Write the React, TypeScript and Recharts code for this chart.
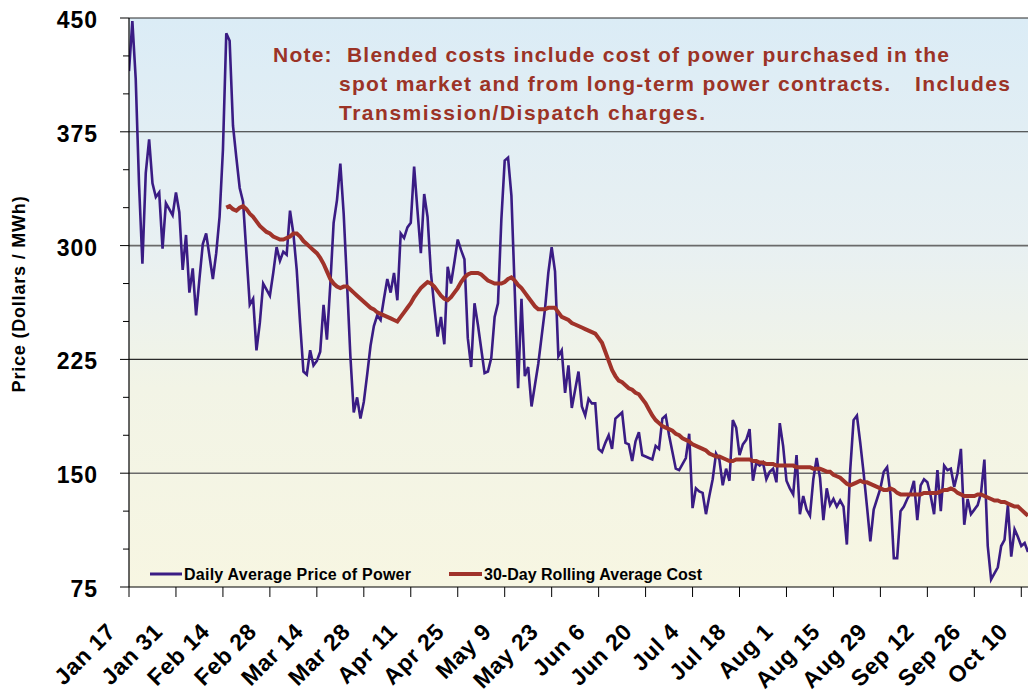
import React from "react";
import {
  LineChart,
  Line,
  XAxis,
  YAxis,
  ReferenceLine,
  ReferenceArea,
} from "recharts";

// Daily Average Price of Power ($/MWh), one value per day starting Jan 17
const dailyPrice: number[] = [
  415, 448, 410, 340, 288, 348, 370, 341, 332, 335,
  298, 328, 324, 320, 335, 322, 284, 307, 269, 285,
  254, 278, 301, 308, 293, 278, 295, 319, 363, 440,
  435, 379, 358, 338, 329, 295, 261, 265, 231, 249,
  275, 271, 267, 282, 299, 290, 296, 294, 323, 308,
  284, 249, 217, 215, 231, 221, 224, 230, 261, 238,
  274, 315, 330, 354, 321, 275, 227, 190, 200, 186,
  197, 215, 234, 247, 254, 251, 265, 278, 269, 282,
  264, 308, 305, 312, 315, 352, 323, 295, 334, 319,
  282, 260, 240, 253, 235, 286, 275, 289, 304, 297,
  291, 239, 220, 262, 248, 232, 216, 217, 226, 253,
  262, 317, 356, 358, 333, 270, 206, 265, 214, 220,
  194, 208, 222, 240, 258, 282, 299, 283, 227, 231,
  203, 221, 193, 205, 217, 194, 188, 199, 196, 196,
  166, 164, 170, 175, 166, 186, 188, 190, 170, 169,
  158, 171, 177, 162, 161, 160, 159, 168, 166, 186,
  188, 175, 164, 153, 152, 156, 160, 176, 127, 140,
  138, 137, 123, 135, 146, 163, 159, 142, 153, 145,
  185, 180, 162, 169, 172, 179, 145, 157, 155, 157,
  146, 151, 153, 144, 183, 168, 145, 140, 136, 162,
  123, 135, 126, 122, 146, 160, 147, 119, 140, 129,
  133, 128, 132, 128, 103, 152, 185, 188, 170, 150,
  128, 105, 126, 133, 140, 151, 154, 136, 94, 94,
  125, 128, 133, 137, 145, 119, 142, 146, 144, 135,
  123, 152, 125, 155, 152, 153, 141, 150, 166, 116,
  133, 123, 126, 129, 137, 159, 102, 80, 84, 88,
  102, 106, 129, 95, 113, 108, 102, 104, 98,
];

// 30-Day Rolling Average Cost, starting on day 29 (Feb 15)
const rollingStartDay = 29;
const rollingAvg: number[] = [
  325, 326, 324, 323, 325, 326, 324, 321, 319, 316,
  313, 311, 309, 308, 306, 305, 304, 304, 305, 306,
  308, 308, 306, 303, 301, 299, 297, 295, 292, 288,
  283, 278, 275, 273, 272, 273, 273, 271, 269, 267,
  265, 263, 261, 259, 258, 256, 255, 254, 253, 252,
  251, 250, 253, 256, 259, 262, 266, 269, 272, 274,
  276, 275, 273, 270, 267, 265, 264, 266, 269, 272,
  276, 279, 281, 282, 282, 282, 281, 279, 277, 276,
  275, 275, 275, 276, 278, 279, 277, 274, 272, 269,
  266, 263, 260, 258, 258, 258, 259, 259, 259, 256,
  253, 252, 251, 249, 248, 247, 246, 245, 244, 243,
  242, 239, 236, 230, 224, 218, 214, 211, 210, 208,
  206, 205, 203, 202, 199, 196, 192, 188, 185, 183,
  181, 180, 179, 178, 176, 175, 173, 172, 171, 169,
  168, 167, 166, 165, 163, 162, 161, 161, 160, 159,
  158, 158, 159, 159, 159, 159, 159, 158, 158, 157,
  157, 156, 156, 156, 155, 155, 155, 155, 155, 155,
  154, 154, 154, 154, 154, 153, 153, 153, 152, 151,
  151, 149, 148, 147, 145, 143, 142, 143, 144, 145,
  144, 144, 143, 142, 141, 140, 139, 139, 140, 139,
  137, 136, 136, 136, 136, 136, 136, 136, 137, 137,
  137, 137, 137, 138, 139, 139, 140, 139, 137, 136,
  135, 135, 135, 135, 136, 136, 135, 134, 133, 132,
  132, 131, 131, 130, 129, 128, 128, 126, 124, 122,
];

const xTickLabels: string[] = [
  "Jan 17", "Jan 31", "Feb 14", "Feb 28", "Mar 14", "Mar 28", "Apr 11",
  "Apr 25", "May 9", "May 23", "Jun 6", "Jun 20", "Jul 4", "Jul 18",
  "Aug 1", "Aug 15", "Aug 29", "Sep 12", "Sep 26", "Oct 10",
];
const xTickStepDays = 14;
const yTicks: number[] = [75, 100, 125, 150, 175, 200, 225, 250, 275, 300, 325, 350, 375, 400, 425, 450];
const yMajorTicks: number[] = [75, 150, 225, 300, 375, 450];
const gridValues: number[] = [150, 225, 300, 375, 450];

const seriesNames = {
  price: "Daily Average Price of Power",
  avg: "30-Day Rolling Average Cost",
};
const noteLines: string[] = [
  "Note:  Blended costs include cost of power purchased in the",
  "spot market and from long-term power contracts.",
  "Includes",
  "Transmission/Dispatch charges.",
];
const yAxisTitle = "Price (Dollars / MWh)";

const data = dailyPrice.map((v, i) => ({
  day: i,
  price: v,
  avg: i >= rollingStartDay ? rollingAvg[i - rollingStartDay] : null,
}));
const xTicks = xTickLabels.map((_, i) => i * xTickStepDays);

const W = 1028;
const H = 692;
const PLOT_LEFT = 129;
const PLOT_TOP = 18;
const PLOT_BOTTOM = 587;
const FONT = "'Liberation Sans', Arial, Helvetica, sans-serif";
const PURPLE = "#3a1c84";
const RED = "#a0332a";
const NOTE = "#9b3326";

const YTick = (props: any) => {
  const { y, payload } = props;
  const v = payload.value as number;
  const major = yMajorTicks.includes(v);
  return (
    <g>
      <line x1={major ? 120 : 123} x2={PLOT_LEFT} y1={y} y2={y} stroke="#000" strokeWidth={1} />
      {major && (
        <text
          x={98}
          y={y + 10}
          textAnchor="end"
          fontFamily={FONT}
          fontWeight="bold"
          fontSize={23}
          letterSpacing={1}
          fill="#000"
        >
          {v}
        </text>
      )}
    </g>
  );
};

const XTick = (props: any) => {
  const { x, payload, index } = props;
  const label = xTickLabels[index] ?? xTickLabels[Math.round(payload.value / xTickStepDays)];
  const ax = x - 12;
  const ay = PLOT_BOTTOM + 46;
  return (
    <g>
      <line x1={x} x2={x} y1={PLOT_BOTTOM} y2={PLOT_BOTTOM + 10} stroke="#000" strokeWidth={1} />
      <text
        x={ax}
        y={ay}
        transform={`rotate(-45, ${ax}, ${ay})`}
        textAnchor="end"
        fontFamily={FONT}
        fontWeight="bold"
        fontSize={23}
        letterSpacing={0.6}
        fill="#000"
      >
        {label}
      </text>
    </g>
  );
};

export default function App() {
  return (
    <div
      style={{
        position: "fixed",
        left: 0,
        top: 0,
        width: W,
        height: H,
        overflow: "hidden",
        background: "#fff",
      }}
    >
      <LineChart
        width={W}
        height={H}
        data={data}
        margin={{ top: PLOT_TOP, right: 0, bottom: 0, left: 0 }}
      >
        <defs>
          <linearGradient id="bgGrad" x1="0" y1="0" x2="0" y2="1">
            <stop offset="0%" stopColor="#dbecf6" />
            <stop offset="40%" stopColor="#e8f0f2" />
            <stop offset="65%" stopColor="#f2f4e6" />
            <stop offset="100%" stopColor="#f7f6e2" />
          </linearGradient>
        </defs>
        <XAxis
          dataKey="day"
          type="number"
          domain={[0, 268]}
          ticks={xTicks}
          interval={0}
          height={H - PLOT_BOTTOM}
          axisLine={{ stroke: "#000", strokeWidth: 1.2 }}
          tickLine={false}
          tick={<XTick />}
          allowDataOverflow
        />
        <YAxis
          type="number"
          domain={[75, 450]}
          ticks={yTicks}
          interval={0}
          width={PLOT_LEFT}
          axisLine={{ stroke: "#000", strokeWidth: 1.2 }}
          tickLine={false}
          tick={<YTick />}
          allowDataOverflow
        />
        <ReferenceArea
          x1={0}
          x2={268}
          y1={75}
          y2={450}
          fill="url(#bgGrad)"
          fillOpacity={1}
          stroke="none"
        />
        {gridValues.map((g) => (
          <ReferenceLine
            key={g}
            y={g}
            stroke={g === 300 || g === 150 ? "#6a6a6a" : "#2a2a2a"}
            strokeWidth={g === 300 || g === 150 ? 1.6 : 1.1}
          />
        ))}
        <Line
          type="linear"
          dataKey="price"
          stroke={PURPLE}
          strokeWidth={2.6}
          dot={false}
          isAnimationActive={false}
          name={seriesNames.price}
        />
        <Line
          type="linear"
          dataKey="avg"
          stroke={RED}
          strokeWidth={4}
          dot={false}
          isAnimationActive={false}
          connectNulls={false}
          name={seriesNames.avg}
        />
        <text
          x={25}
          y={294}
          transform="rotate(-90, 25, 294)"
          textAnchor="middle"
          fontFamily={FONT}
          fontWeight="bold"
          fontSize={18}
          letterSpacing={0.8}
          fill="#000"
        >
          {yAxisTitle}
        </text>
      </LineChart>
      <svg
        width={W}
        height={H}
        style={{ position: "absolute", left: 0, top: 0, pointerEvents: "none" }}
      >
        <g fontFamily={FONT} fontWeight="bold">
          <text x={273} y={62} fontSize={21} fill={NOTE} textLength={676} lengthAdjust="spacing" style={{ whiteSpace: "pre" }}>
            {noteLines[0]}
          </text>
          <text x={339} y={91} fontSize={21} fill={NOTE} textLength={551} lengthAdjust="spacing">
            {noteLines[1]}
          </text>
          <text x={915} y={91} fontSize={21} fill={NOTE} textLength={95} lengthAdjust="spacing">
            {noteLines[2]}
          </text>
          <text x={339} y={120} fontSize={21} fill={NOTE} textLength={366} lengthAdjust="spacing">
            {noteLines[3]}
          </text>
        </g>
        <g fontFamily={FONT} fontWeight="bold">
          <line x1={150} x2={182} y1={574} y2={574} stroke={PURPLE} strokeWidth={3} />
          <text x={184} y={580} fontSize={16} fill="#000" textLength={227} lengthAdjust="spacing">
            {seriesNames.price}
          </text>
          <line x1={449} x2={482} y1={574} y2={574} stroke={RED} strokeWidth={4} />
          <text x={484} y={580} fontSize={16} fill="#000" textLength={218} lengthAdjust="spacing">
            {seriesNames.avg}
          </text>
        </g>
      </svg>
    </div>
  );
}
